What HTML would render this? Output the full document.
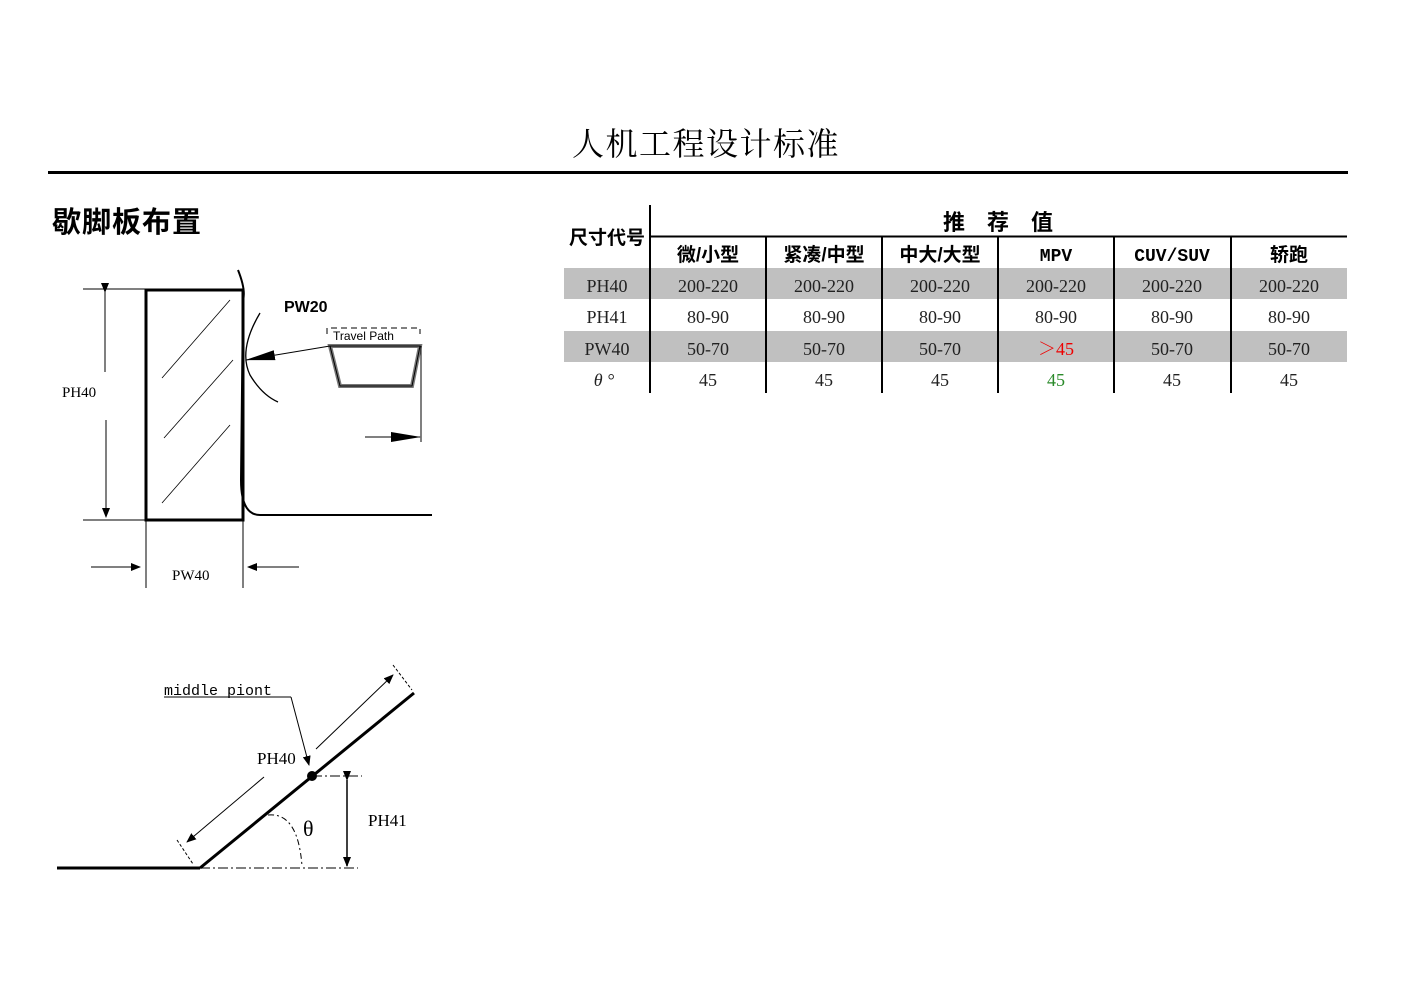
<!DOCTYPE html>
<html><head><meta charset="utf-8"><style>
html,body{margin:0;padding:0;background:#fff;}
svg{display:block;}
.cj{font-family:"Liberation Serif","Noto Serif CJK SC",serif;}
.cb{font-family:"Liberation Sans","Noto Sans CJK SC",sans-serif;font-weight:bold;}
.m{font-family:"Liberation Mono","Noto Sans CJK SC",monospace;}
</style></head><body>
<svg width="1403" height="992" viewBox="0 0 1403 992" xmlns="http://www.w3.org/2000/svg">
<defs>
<marker id="a" markerWidth="10" markerHeight="8" refX="9" refY="4" orient="auto" markerUnits="userSpaceOnUse"><path d="M0,0 L10,4 L0,8 Z" fill="#000"/></marker>
<marker id="b" markerWidth="30" markerHeight="12" refX="29" refY="6" orient="auto" markerUnits="userSpaceOnUse"><path d="M0,1 L30,6 L0,11 Z" fill="#000"/></marker>
</defs>
<text x="706" y="155" text-anchor="middle" class="cj" font-size="32" letter-spacing="1.5">人机工程设计标准</text>
<rect x="48" y="171" width="1300" height="3" fill="#000"/>
<text x="52" y="232" class="cb" font-size="29" letter-spacing="1">歇脚板布置</text>

<rect x="564" y="268" width="783" height="31" fill="#c0c0c0"/>
<rect x="564" y="331" width="783" height="31" fill="#c0c0c0"/>
<line x1="650" y1="205" x2="650" y2="393" stroke="#000" stroke-width="2"/>
<line x1="650" y1="236.5" x2="1347" y2="236.5" stroke="#000" stroke-width="2"/>
<g stroke="#000" stroke-width="2">
<line x1="766" y1="237" x2="766" y2="393"/><line x1="882" y1="237" x2="882" y2="393"/>
<line x1="998" y1="237" x2="998" y2="393"/><line x1="1114" y1="237" x2="1114" y2="393"/>
<line x1="1231" y1="237" x2="1231" y2="393"/></g>
<text x="607" y="244" text-anchor="middle" class="cb" font-size="19">尺寸代号</text>
<text x="998" y="230" text-anchor="middle" class="cb" font-size="22">推　荐　值</text>
<g class="cb" font-size="19" text-anchor="middle">
<text x="708" y="261">微/小型</text><text x="824" y="261">紧凑/中型</text><text x="940" y="261">中大/大型</text>
<text x="1056" y="261" class="m" font-weight="bold" font-size="18">MPV</text><text x="1172" y="261" class="m" font-weight="bold" font-size="18">CUV/SUV</text><text x="1289" y="261">轿跑</text></g>
<g class="cj" font-size="18" text-anchor="middle" fill="#222">
<text x="607" y="292">PH40</text><text x="708" y="292">200-220</text><text x="824" y="292">200-220</text><text x="940" y="292">200-220</text><text x="1056" y="292">200-220</text><text x="1172" y="292">200-220</text><text x="1289" y="292">200-220</text>
<text x="607" y="323">PH41</text><text x="708" y="323">80-90</text><text x="824" y="323">80-90</text><text x="940" y="323">80-90</text><text x="1056" y="323">80-90</text><text x="1172" y="323">80-90</text><text x="1289" y="323">80-90</text>
<text x="607" y="355">PW40</text><text x="708" y="355">50-70</text><text x="824" y="355">50-70</text><text x="940" y="355">50-70</text><text x="1056" y="355" fill="#e00">＞45</text><text x="1172" y="355">50-70</text><text x="1289" y="355">50-70</text>
<text x="604" y="386" font-style="italic">θ °</text><text x="708" y="386">45</text><text x="824" y="386">45</text><text x="940" y="386">45</text><text x="1056" y="386" fill="#2a8a2a">45</text><text x="1172" y="386">45</text><text x="1289" y="386">45</text>
</g>

<rect x="146" y="290" width="97" height="230" fill="none" stroke="#000" stroke-width="3"/>
<line x1="83" y1="289" x2="146" y2="289" stroke="#000"/>
<line x1="83" y1="520" x2="146" y2="520" stroke="#000"/>
<line x1="105" y1="292" x2="105" y2="372" stroke="#000" marker-start="url(#a)"/>
<line x1="106" y1="420" x2="106" y2="517" stroke="#000" marker-end="url(#a)"/>
<text x="62" y="397" class="cj" font-size="15">PH40</text>
<g stroke="#000" stroke-width="0.8"><line x1="162" y1="378" x2="230" y2="300"/><line x1="164" y1="438" x2="233" y2="360"/><line x1="162" y1="503" x2="230" y2="425"/></g>
<path d="M238,270 Q246,290 243,300 L241,480 Q241,515 260,515 L432,515" fill="none" stroke="#000" stroke-width="2"/>
<path d="M260,313 Q238,350 250,375 Q262,395 278,402" fill="none" stroke="#000" stroke-width="1.3"/>
<text x="284" y="312" font-family="Liberation Sans,sans-serif" font-weight="bold" font-size="16">PW20</text>
<path d="M327,334 L327,328 L420,328 L420,334" fill="none" stroke="#000" stroke-dasharray="6,4"/>
<text x="333" y="340" font-family="Liberation Sans,sans-serif" font-size="12">Travel Path</text>
<path d="M330,346 L420,346 L412,386 L340,386 Z" fill="none" stroke="#777" stroke-width="4"/>
<path d="M330,346 L420,346 L412,386 L340,386 Z" fill="none" stroke="#000" stroke-width="1"/>
<line x1="330" y1="346" x2="246" y2="360" stroke="#000" marker-end="url(#b)"/>
<line x1="421" y1="346" x2="421" y2="442" stroke="#000"/>
<line x1="365" y1="437" x2="420" y2="437" stroke="#000" marker-end="url(#b)"/>
<line x1="146" y1="520" x2="146" y2="588" stroke="#000"/>
<line x1="243" y1="520" x2="243" y2="588" stroke="#000"/>
<line x1="91" y1="567" x2="140" y2="567" stroke="#000" marker-end="url(#a)"/>
<line x1="299" y1="567" x2="248" y2="567" stroke="#000" marker-end="url(#a)"/>
<text x="172" y="580" class="cj" font-size="15">PW40</text>

<line x1="57" y1="868" x2="200" y2="868" stroke="#000" stroke-width="3"/>
<line x1="200" y1="868" x2="414" y2="693" stroke="#000" stroke-width="3"/>
<line x1="200" y1="868" x2="358" y2="868" stroke="#000" stroke-dasharray="10,3,2,3"/>
<line x1="312" y1="776" x2="362" y2="776" stroke="#000" stroke-dasharray="10,3,2,3"/>
<circle cx="312" cy="776" r="5" fill="#000"/>
<line x1="347" y1="780" x2="347" y2="866" stroke="#000" stroke-width="1.5" marker-start="url(#a)" marker-end="url(#a)"/>
<line x1="264" y1="777" x2="187" y2="842" stroke="#000" marker-end="url(#a)"/>
<line x1="316" y1="749" x2="393" y2="675" stroke="#000" marker-end="url(#a)"/>
<line x1="177" y1="840" x2="193" y2="864" stroke="#000" stroke-dasharray="3,2"/>
<line x1="393" y1="665" x2="412" y2="690" stroke="#000" stroke-dasharray="3,2"/>
<path d="M268,815 Q298,812 302,866" fill="none" stroke="#000" stroke-dasharray="6,3,2,3"/>
<text x="303" y="836" class="cj" font-size="22">θ</text>
<text x="368" y="826" class="cj" font-size="17">PH41</text>
<text x="257" y="764" class="cj" font-size="17">PH40</text>
<text x="164" y="695" class="m" font-size="15">middle piont</text>
<line x1="164" y1="697" x2="291" y2="697" stroke="#000"/>
<line x1="291" y1="697" x2="309" y2="765" stroke="#000" marker-end="url(#a)"/>
</svg>
</body></html>
